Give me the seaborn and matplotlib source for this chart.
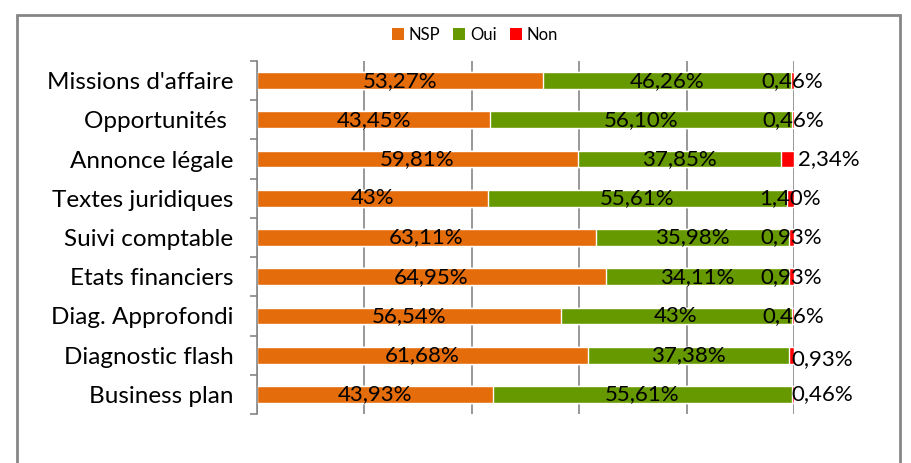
import matplotlib
matplotlib.use("Agg")
import matplotlib.pyplot as plt
import seaborn as sns
import pandas as pd
import numpy as np
from matplotlib.patches import Rectangle, Patch

categories = ["Missions d'affaire", "Opportunités ", "Annonce légale", "Textes juridiques",
              "Suivi comptable", "Etats financiers", "Diag. Approfondi",
              "Diagnostic flash", "Business plan"]
nsp = [53.27, 43.45, 59.81, 43.00, 63.11, 64.95, 56.54, 61.68, 43.93]
oui = [46.26, 56.10, 37.85, 55.61, 35.98, 34.11, 43.00, 37.38, 55.61]
non = [0.46, 0.46, 2.34, 1.40, 0.93, 0.93, 0.46, 0.93, 0.46]
series_names = ["NSP", "Oui", "Non"]
colors = {"NSP": "#E46C0A", "Oui": "#669900", "Non": "#FF0000"}
# placement of "Non" label: centered on the segment or to the right of the bar
non_place = ["c", "c", "r", "c", "c", "c", "c", "r", "r"]

sns.set_theme(style="white")
plt.rcParams['font.family'] = ['Lato', 'DejaVu Sans']
plt.rcParams['text.color'] = 'black'
plt.rcParams['ytick.labelcolor'] = 'black'

df = pd.DataFrame({"cat": categories, "NSP": nsp, "Oui": oui, "Non": non})
df["c1"] = df["NSP"]
df["c2"] = df["NSP"] + df["Oui"]
df["c3"] = df["c2"] + df["Non"]

fig = plt.figure(figsize=(9.12, 4.63), dpi=100)
ax = fig.add_axes([257/912, 1-414/463, (794-257)/912, (414-61)/463])

bw = 0.43
sns.barplot(data=df, y="cat", x="c3", color=colors["Non"], orient="h", width=bw, ax=ax,
            saturation=1, zorder=3)
sns.barplot(data=df, y="cat", x="c2", color=colors["Oui"], orient="h", width=bw, ax=ax,
            saturation=1, zorder=3)
sns.barplot(data=df, y="cat", x="c1", color=colors["NSP"], orient="h", width=bw, ax=ax,
            saturation=1, zorder=3)

def fmt(v):
    if abs(v - round(v)) < 1e-9:
        return f"{int(round(v))}%"
    return f"{v:.2f}".replace(".", ",") + "%"

fs = 16
for i, r in df.iterrows():
    ax.text(r["NSP"] / 2, i, fmt(r["NSP"]), ha="center", va="center", fontsize=fs, zorder=5)
    ax.text(r["c1"] + r["Oui"] / 2, i, fmt(r["Oui"]), ha="center", va="center", fontsize=fs, zorder=5)
    if non_place[i] == "c":
        ax.text(r["c2"] + r["Non"] / 2, i, fmt(r["Non"]), ha="center", va="center", fontsize=fs, zorder=5)
    else:
        dy = 0.1 if i == 7 else 0.0
        dx = 0.8 if i == 2 else -0.4
        ax.text(r["c3"] + dx, i + dy, fmt(r["Non"]), ha="left", va="center", fontsize=fs, zorder=5)

ax.set_xlim(0, 100)
ax.set_ylim(len(categories) - 0.5, -0.5)
ax.set_xlabel("")
ax.set_ylabel("")
ax.set_xticks([0, 20, 40, 60, 80, 100])
ax.set_xticklabels([])
ax.tick_params(axis="x", length=0)
ax.grid(axis="x", color="#868686", linewidth=1.2, zorder=0)
ax.grid(axis="y", visible=False)
for s in ["top", "right", "bottom"]:
    ax.spines[s].set_visible(False)
ax.spines["left"].set_color("#868686")
ax.spines["left"].set_linewidth(1.2)
ax.spines["left"].set_zorder(4)

ax.set_yticks(range(len(categories)))
ax.set_yticklabels(categories, fontsize=17.5, color="black")
ax.set_yticks(np.arange(-0.5, len(categories)), minor=True)
ax.tick_params(axis="y", which="major", length=0, pad=17)
ax.tick_params(axis="y", which="minor", length=5, width=1.2, color="#868686", left=True)

handles = [Patch(facecolor=colors[n], edgecolor="none", label=n) for n in series_names]
fig.legend(handles=handles, loc="center", bbox_to_anchor=(475/912, 1-35/463), ncol=3,
           frameon=False, fontsize=12, handlelength=0.7, handleheight=0.7,
           handletextpad=0.3, columnspacing=0.8)

fig.patches.append(Rectangle((17/912, -0.05), (900-17)/912, 1.05 - 15/463,
                             transform=fig.transFigure, fill=False,
                             edgecolor="#868686", linewidth=2))

fig.savefig("out.png", dpi=100)
